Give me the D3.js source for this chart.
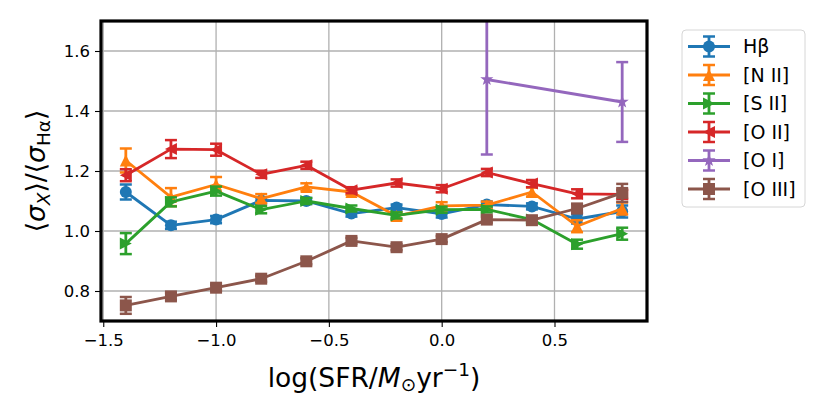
<!DOCTYPE html>
<html><head><meta charset="utf-8">
<script src="https://cdn.jsdelivr.net/npm/d3@7"></script>
<style>
body{margin:0;background:#fff;}
text{font-family:"DejaVu Sans",sans-serif;fill:#000;}
</style></head>
<body><svg id="chart" width="830" height="415"></svg>
<script>
const xs = [-1.4,-1.2,-1.0,-0.8,-0.6,-0.4,-0.2,0.0,0.2,0.4,0.6,0.8];
const hbeta   = [1.13,1.019,1.038,1.102,1.10,1.058,1.078,1.057,1.088,1.082,1.04,1.065];
const hbetaErr= [0.025,0.012,0.012,0.01,0.01,0.01,0.01,0.012,0.01,0.01,0.015,0.02];
const nii     = [1.235,1.113,1.155,1.108,1.147,1.13,1.05,1.084,1.086,1.13,1.016,1.075];
const niiErr  = [0.04,0.03,0.025,0.015,0.012,0.01,0.012,0.012,0.012,0.015,0.02,0.02];
const sii     = [0.958,1.097,1.133,1.071,1.10,1.075,1.052,1.071,1.072,1.038,0.956,0.991];
const siiErr  = [0.035,0.015,0.015,0.012,0.01,0.01,0.01,0.01,0.01,0.01,0.015,0.02];
const oii     = [1.186,1.273,1.271,1.189,1.219,1.136,1.16,1.141,1.195,1.158,1.124,1.122];
const oiiErr  = [0.02,0.03,0.02,0.012,0.012,0.01,0.012,0.012,0.012,0.012,0.015,0.015];
const oiX     = [0.2,0.8];
const oi      = [1.505,1.43];
const oiErr   = [0.25,0.133];
const oiii    = [0.752,0.782,0.811,0.841,0.899,0.967,0.946,0.973,1.038,1.036,1.075,1.127];
const oiiiErr = [0.028,0.012,0.01,0.01,0.01,0.01,0.01,0.01,0.01,0.01,0.015,0.03];
const xTicks = [-1.5,-1.0,-0.5,0.0,0.5];
const yTicks = [0.8,1.0,1.2,1.4,1.6];
const labels = ["Hβ","[N II]","[S II]","[O II]","[O I]","[O III]"];
const colors = ["#1f77b4","#ff7f0e","#2ca02c","#d62728","#9467bd","#8c564b"];
const markers = ["circle","tri-up","tri-right","tri-left","star","square"];

const series = [
  {x:xs, y:hbeta, e:hbetaErr},
  {x:xs, y:nii, e:niiErr},
  {x:xs, y:sii, e:siiErr},
  {x:xs, y:oii, e:oiiErr},
  {x:oiX, y:oi, e:oiErr},
  {x:xs, y:oiii, e:oiiiErr},
].map((s,i)=>({...s,label:labels[i],color:colors[i],marker:markers[i]}));

const svg = d3.select("#chart");
const L=101, R=647, T=21, B=321;
const x = d3.scaleLinear().domain([-1.51,0.91]).range([L,R]);
const y = d3.scaleLinear().domain([0.7,1.7]).range([B,T]);

svg.append("defs").append("clipPath").attr("id","clip")
  .append("rect").attr("x",L).attr("y",T).attr("width",R-L).attr("height",B-T);

// grid
const grid = svg.append("g");
grid.selectAll(".gx").data(xTicks).enter().append("line")
  .attr("x1",d=>x(d)).attr("x2",d=>x(d)).attr("y1",T).attr("y2",B)
  .attr("stroke","#b0b0b0").attr("stroke-width",1.3);
grid.selectAll(".gy").data(yTicks).enter().append("line")
  .attr("y1",d=>y(d)).attr("y2",d=>y(d)).attr("x1",L).attr("x2",R)
  .attr("stroke","#b0b0b0").attr("stroke-width",1.3);

const MS = 12;
function markerPath(type, s){
  const h = s/2;
  switch(type){
    case "circle": return d3.symbol(d3.symbolCircle, Math.PI*h*h)();
    case "square": return `M${-h},${-h}H${h}V${h}H${-h}Z`;
    case "tri-up": return `M0,${-h}L${h},${h}L${-h},${h}Z`;
    case "tri-right": return `M${h},0L${-h},${-h}L${-h},${h}Z`;
    case "tri-left": return `M${-h},0L${h},${-h}L${h},${h}Z`;
    case "star": {
      const pts=[]; const ro=h*1.15, ri=ro*0.4;
      for(let k=0;k<10;k++){const r=k%2?ri:ro; const a=-Math.PI/2+k*Math.PI/5; pts.push([r*Math.cos(a),r*Math.sin(a)]);}
      return "M"+pts.map(p=>p.join(",")).join("L")+"Z";
    }
  }
}

const plot = svg.append("g").attr("clip-path","url(#clip)");
const LW = 2.8, CAP = 6;
series.forEach(s=>{
  const g = plot.append("g");
  const pts = s.x.map((xv,i)=>({x:xv,y:s.y[i],e:s.e[i]}));
  g.append("path").datum(pts)
    .attr("d", d3.line().x(d=>x(d.x)).y(d=>y(d.y)))
    .attr("fill","none").attr("stroke",s.color).attr("stroke-width",LW).attr("stroke-linejoin","round");
  pts.forEach(p=>{
    g.append("line").attr("x1",x(p.x)).attr("x2",x(p.x)).attr("y1",y(p.y-p.e)).attr("y2",y(p.y+p.e))
      .attr("stroke",s.color).attr("stroke-width",LW);
    [p.y-p.e,p.y+p.e].forEach(v=>{
      g.append("line").attr("x1",x(p.x)-CAP).attr("x2",x(p.x)+CAP).attr("y1",y(v)).attr("y2",y(v))
        .attr("stroke",s.color).attr("stroke-width",2.5);
    });
    g.append("path").attr("d",markerPath(s.marker,MS)).attr("transform",`translate(${x(p.x)},${y(p.y)})`)
      .attr("fill",s.color);
  });
});

// axes
const xAxis = svg.append("g").attr("transform",`translate(0,${B})`)
  .call(d3.axisBottom(x).tickValues(xTicks).tickSize(6).tickPadding(7).tickFormat(d=>d3.format(".1f")(d).replace("-","−")));
const yAxis = svg.append("g").attr("transform",`translate(${L},0)`)
  .call(d3.axisLeft(y).tickValues(yTicks).tickSize(6).tickPadding(5).tickFormat(d3.format(".1f")));
[xAxis,yAxis].forEach(a=>{
  a.select(".domain").remove();
  a.selectAll(".tick line").attr("stroke","#000").attr("stroke-width",1.1);
  a.selectAll(".tick text").attr("font-size",16.5).attr("font-family","DejaVu Sans").attr("fill","#000");
});

// frame
svg.append("rect").attr("x",L).attr("y",T).attr("width",R-L).attr("height",B-T)
  .attr("fill","none").attr("stroke","#000").attr("stroke-width",3.2);

// x label
const xl = svg.append("text").attr("x",(L+R)/2).attr("y",387).attr("text-anchor","middle").attr("font-size",26.5);
xl.append("tspan").text("log(SFR/");
xl.append("tspan").attr("font-style","italic").text("M");
xl.append("tspan").attr("font-size",18.5).attr("dy",4).text("⊙");
xl.append("tspan").attr("dy",-4).text("yr");
xl.append("tspan").attr("font-size",18.5).attr("dy",-11).text("−1");
xl.append("tspan").attr("dy",11).text(")");

// y label
const yl = svg.append("text").attr("transform","translate(45,171) rotate(-90)").attr("text-anchor","middle").attr("font-size",26.5);
yl.append("tspan").text("⟨");
yl.append("tspan").attr("font-style","italic").text("σ");
yl.append("tspan").attr("font-style","italic").attr("font-size",18.5).attr("dy",5).text("X");
yl.append("tspan").attr("dy",-5).text("⟩/⟨");
yl.append("tspan").attr("font-style","italic").text("σ");
yl.append("tspan").attr("font-size",18.5).attr("dy",5).text("Hα");
yl.append("tspan").attr("dy",-5).text("⟩");

// legend
const lg = svg.append("g");
lg.append("rect").attr("x",682).attr("y",30).attr("width",123).attr("height",177).attr("rx",4)
  .attr("fill","#fff").attr("fill-opacity",0.8).attr("stroke","#d6d6d6").attr("stroke-width",1);
series.forEach((s,i)=>{
  const cy = 46.5 + i*28.5, cx = 709;
  const g = lg.append("g");
  g.append("line").attr("x1",688).attr("x2",730).attr("y1",cy).attr("y2",cy).attr("stroke",s.color).attr("stroke-width",LW);
  g.append("line").attr("x1",cx).attr("x2",cx).attr("y1",cy-10).attr("y2",cy+10).attr("stroke",s.color).attr("stroke-width",LW);
  [cy-10,cy+10].forEach(v=>g.append("line").attr("x1",cx-CAP).attr("x2",cx+CAP).attr("y1",v).attr("y2",v).attr("stroke",s.color).attr("stroke-width",2.5));
  g.append("path").attr("d",markerPath(s.marker,MS)).attr("transform",`translate(${cx},${cy})`).attr("fill",s.color);
  g.append("text").attr("x",743).attr("y",cy).attr("dy","0.36em").attr("font-size",19).text(s.label);
});
</script></body></html>
